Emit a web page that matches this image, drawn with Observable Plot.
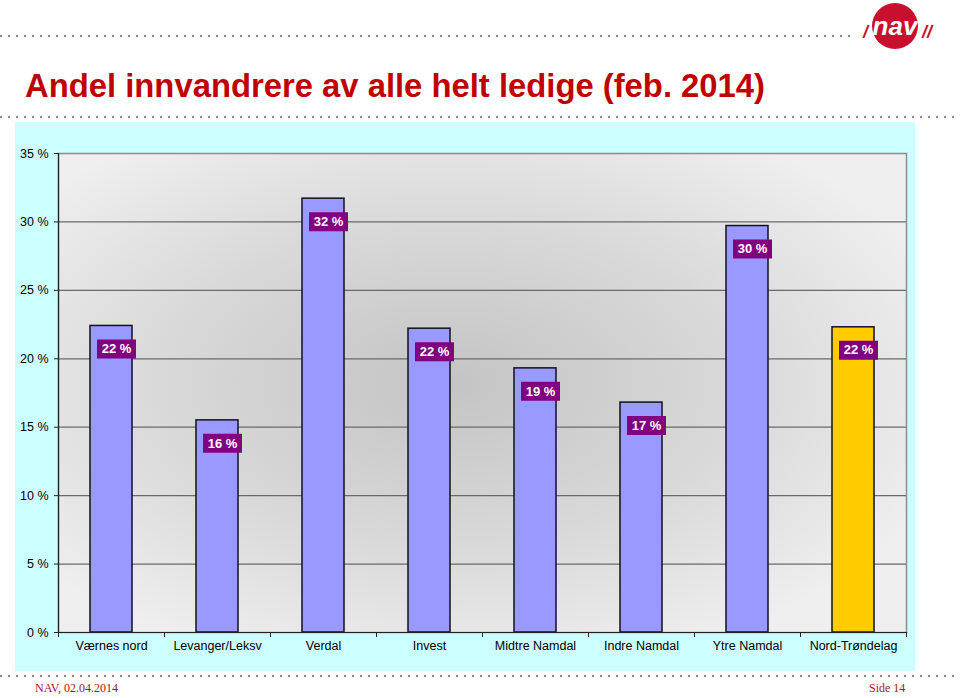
<!DOCTYPE html>
<html>
<head>
<meta charset="utf-8">
<script src="https://cdn.jsdelivr.net/npm/d3@7"></script>
<script src="https://cdn.jsdelivr.net/npm/@observablehq/plot@0.6"></script>
<style>
  html, body { margin: 0; padding: 0; background: #fff; }
  #page { position: relative; width: 960px; height: 698px; overflow: hidden; font-family: Arial, "Liberation Sans", sans-serif; }
  .dots { position: absolute; left: 0; width: 960px; height: 2px;
          background: repeating-linear-gradient(to right, #8a8a8a 0 2px, transparent 2px 8px); }
  #title { position: absolute; left: 25px; top: 67px; font-size: 32.8px; font-weight: bold; color: #C00000; white-space: nowrap; line-height: 38px; }
  #panel { position: absolute; left: 15px; top: 122px; width: 900px; height: 549px; background: #CCFFFF; }
  #foot-left { position: absolute; left: 35px; top: 681px; font-family: "Liberation Serif", "DejaVu Serif", serif; font-size: 12px; color: #A01818; }
  #foot-right { position: absolute; left: 869px; top: 681px; font-family: "Liberation Serif", "DejaVu Serif", serif; font-size: 12px; color: #A01818; }
  #logo { position: absolute; left: 850px; top: 0px; }
</style>
</head>
<body>
<div id="page">
  <div class="dots" style="top:35px"></div>
  <svg id="logo" width="110" height="55" viewBox="0 0 110 55">
    <rect x="0" y="30" width="110" height="10" fill="#fff"/>
    <circle cx="45" cy="26" r="23" fill="#C8102E"/>
    <text x="45" y="35" text-anchor="middle" font-family="Arial, Liberation Sans" font-weight="bold" font-style="italic" font-size="26" fill="#fff">nav</text>
    <text x="13" y="38" font-family="Arial, Liberation Sans" font-weight="bold" font-style="italic" font-size="18" fill="#C8102E">/</text>
    <text x="72" y="38" font-family="Arial, Liberation Sans" font-weight="bold" font-style="italic" font-size="18" fill="#C8102E">//</text>
  </svg>
  <div id="title">Andel innvandrere av alle helt ledige (feb. 2014)</div>
  <div class="dots" style="top:116px"></div>
  <div id="panel"></div>
  <div class="dots" style="top:675px"></div>
  <div id="foot-left">NAV, 02.04.2014</div>
  <div id="foot-right">Side 14</div>
</div>
<script>
const categories = ["Værnes nord", "Levanger/Leksv", "Verdal", "Invest", "Midtre Namdal", "Indre Namdal", "Ytre Namdal", "Nord-Trøndelag"];
const shares = [22.4, 15.5, 31.7, 22.2, 19.3, 16.8, 29.7, 22.3];
const barColors = ["#9999FF", "#9999FF", "#9999FF", "#9999FF", "#9999FF", "#9999FF", "#9999FF", "#FFCC00"];
const yTicks = [0, 5, 10, 15, 20, 25, 30, 35];

const data = categories.map((c, i) => ({cat: c, v: shares[i], color: barColors[i]}));

const W = 900, H = 549, mL = 43, mR = 9, mT = 31, mB = 39;
const step = (W - mL - mR) / categories.length;

const boxSymbol = {draw(ctx) { ctx.rect(-19.5, -9.5, 39, 19); }};

const chart = Plot.plot({
  width: W, height: H,
  marginLeft: mL, marginRight: mR, marginTop: mT, marginBottom: mB,
  style: {background: "transparent", fontFamily: "Arial, 'Liberation Sans', sans-serif", fontSize: "12px", color: "#000"},
  x: {domain: categories, paddingInner: 0.6, paddingOuter: 0.3, axis: null, label: null},
  y: {domain: [0, 35], axis: null, label: null},
  color: {type: "identity"},
  marks: [
    Plot.frame({fill: "url(#plotBg)", stroke: "#8c8c8c", strokeWidth: 1.5}),
    Plot.ruleY(yTicks.filter(t => t > 0 && t < 35), {stroke: "#6a6a6a", strokeWidth: 1.2}),
    Plot.barY(data, {x: "cat", y: "v", fill: "color", stroke: "#111122", strokeWidth: 1.5}),
    Plot.frame({anchor: "left", stroke: "#222", strokeWidth: 1.2}),
    Plot.frame({anchor: "bottom", stroke: "#222", strokeWidth: 1.2}),
    Plot.ruleX(data, {x: "cat", y1: 0, y2: 0, insetBottom: -5, dx: -step / 2, stroke: "#222"}),
    Plot.ruleX(data.slice(-1), {x: "cat", y1: 0, y2: 0, insetBottom: -5, dx: step / 2, stroke: "#222"}),
    Plot.axisY({ticks: yTicks, tickSize: 4, tickPadding: 6, tickFormat: d => d + " %", stroke: "#222", fontSize: 12.5, label: null}),
    Plot.axisX({tickSize: 0, tickPadding: 9, fontSize: 12.5, label: null}),
    Plot.dot(data, {x: "cat", y: "v", symbol: boxSymbol, fill: "#800080", stroke: "none", dx: 5, dy: 23}),
    Plot.text(data, {x: "cat", y: "v", text: d => Math.round(d.v) + " %", fill: "#fff", fontWeight: "bold", fontSize: 13, dx: 5, dy: 23})
  ]
});

const svg = d3.select(chart);
const grad = svg.insert("defs", ":first-child").append("radialGradient")
  .attr("id", "plotBg").attr("cx", "0.46").attr("cy", "0.48").attr("r", "0.62");
grad.append("stop").attr("offset", "0").attr("stop-color", "#c4c4c4");
grad.append("stop").attr("offset", "0.55").attr("stop-color", "#d9d9d9");
grad.append("stop").attr("offset", "1").attr("stop-color", "#efefef");

document.getElementById("panel").appendChild(chart);
</script>
</body>
</html>
